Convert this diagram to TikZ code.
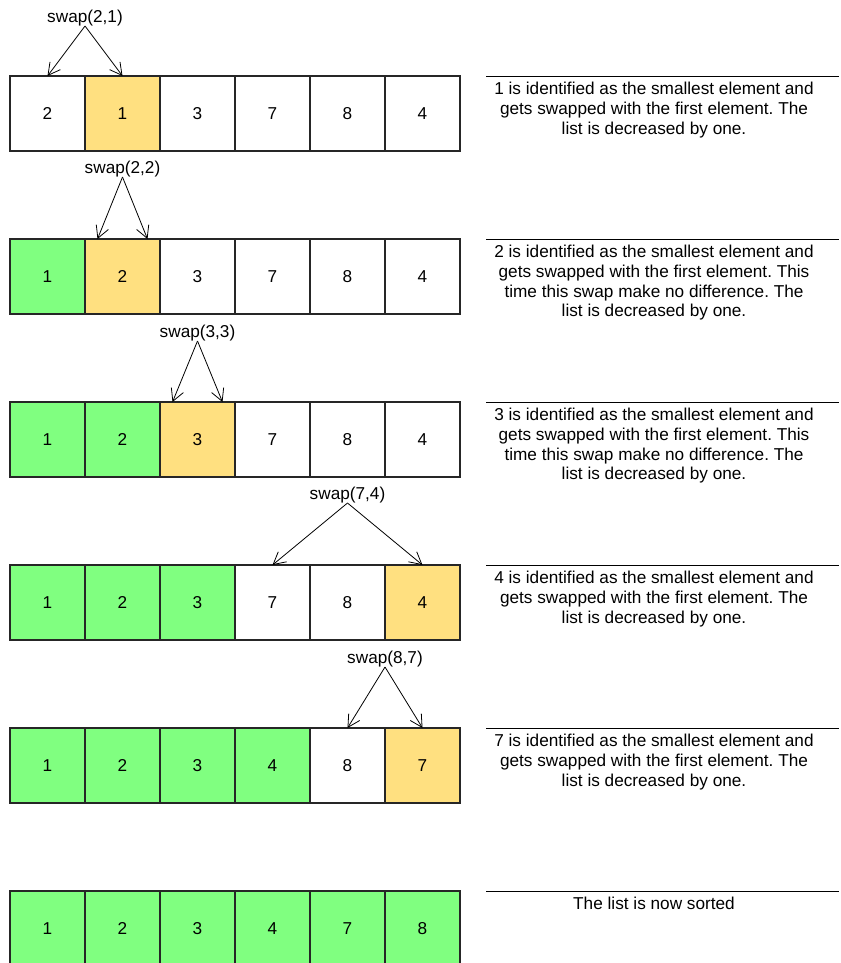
\documentclass[tikz,border=0pt]{standalone}
\usepackage{fontspec}
\setmainfont{Liberation Sans}
\frenchspacing
\usetikzlibrary{positioning,arrows.meta}
\definecolor{donegreen}{HTML}{80FF80}
\definecolor{pickyellow}{HTML}{FFE080}
\tikzstyle{cell}=[rectangle, draw=black!85, line width=1.4pt, minimum size=75pt, inner sep=0, outer sep=0]
\tikzstyle{sorted}=[cell, fill=donegreen]
\tikzstyle{picked}=[cell, fill=pickyellow]
\tikzstyle{swaplabel}=[inner sep=0]
\tikzstyle{note}=[align=center, inner sep=0, anchor=north]
\tikzstyle{swaparrow}=[-{Straight Barb[length=12pt,width=13pt]}, line width=0.8pt]

\begin{document}
\begin{tikzpicture}[x=1pt,y=-1pt,font=\fontsize{17.2}{19.7}\selectfont]
        \useasboundingbox (0,0) rectangle (840,963);

% Row 1
        \node[cell] (c11) at (47.5,113.5) {2};
        \node[picked, right=0pt of c11] (c12) {1};
        \node[cell, right=0pt of c12] (c13) {3};
        \node[cell, right=0pt of c13] (c14) {7};
        \node[cell, right=0pt of c14] (c15) {8};
        \node[cell, right=0pt of c15] (c16) {4};

% Row 2
        \node[sorted, below=88pt of c11] (c21) {1};
        \node[picked, right=0pt of c21] (c22) {2};
        \node[cell, right=0pt of c22] (c23) {3};
        \node[cell, right=0pt of c23] (c24) {7};
        \node[cell, right=0pt of c24] (c25) {8};
        \node[cell, right=0pt of c25] (c26) {4};

% Row 3
        \node[sorted, below=88pt of c21] (c31) {1};
        \node[sorted, right=0pt of c31] (c32) {2};
        \node[picked, right=0pt of c32] (c33) {3};
        \node[cell, right=0pt of c33] (c34) {7};
        \node[cell, right=0pt of c34] (c35) {8};
        \node[cell, right=0pt of c35] (c36) {4};

% Row 4
        \node[sorted, below=88pt of c31] (c41) {1};
        \node[sorted, right=0pt of c41] (c42) {2};
        \node[sorted, right=0pt of c42] (c43) {3};
        \node[cell, right=0pt of c43] (c44) {7};
        \node[cell, right=0pt of c44] (c45) {8};
        \node[picked, right=0pt of c45] (c46) {4};

% Row 5
        \node[sorted, below=88pt of c41] (c51) {1};
        \node[sorted, right=0pt of c51] (c52) {2};
        \node[sorted, right=0pt of c52] (c53) {3};
        \node[sorted, right=0pt of c53] (c54) {4};
        \node[cell, right=0pt of c54] (c55) {8};
        \node[picked, right=0pt of c55] (c56) {7};

% Row 6
        \node[sorted, below=88pt of c51] (c61) {1};
        \node[sorted, right=0pt of c61] (c62) {2};
        \node[sorted, right=0pt of c62] (c63) {3};
        \node[sorted, right=0pt of c63] (c64) {4};
        \node[sorted, right=0pt of c64] (c65) {7};
        \node[sorted, right=0pt of c65] (c66) {8};

% Swap labels
        \node[swaplabel, above=50pt of c11.north east] (s1) {swap(2,1)};
        \node[swaplabel, above=62pt of c22.north] (s2) {swap(2,2)};
        \node[swaplabel, above=61pt of c33.north] (s3) {swap(3,3)};
        \node[swaplabel, above=62pt of c45.north] (s4) {swap(7,4)};
        \node[swaplabel, above=61pt of c55.north east] (s5) {swap(8,7)};

% Arrows
        \draw[swaparrow] (s1.south) -- (c11.north);
        \draw[swaparrow] (s1.south) -- (c12.north);
        \draw[swaparrow] (s2.south) -- ([xshift=-25pt]c22.north);
        \draw[swaparrow] (s2.south) -- ([xshift=25pt]c22.north);
        \draw[swaparrow] (s3.south) -- ([xshift=-25pt]c33.north);
        \draw[swaparrow] (s3.south) -- ([xshift=25pt]c33.north);
        \draw[swaparrow] (s4.south) -- (c44.north);
        \draw[swaparrow] (s4.south) -- (c46.north);
        \draw[swaparrow] (s5.south) -- (c55.north);
        \draw[swaparrow] (s5.south) -- (c56.north);

% Notes
        \draw[line width=0.8pt] ([xshift=26pt]c16.north east) -- ++(353,0);
        \node[note] (n1) at ([xshift=194pt,yshift=-6pt]c16.north east)
            {1 is identified as the smallest element and\\
             gets swapped with the first element. The\\
             list is decreased by one.};

        \draw[line width=0.8pt] ([xshift=26pt]c26.north east) -- ++(353,0);
        \node[note] (n2) at ([xshift=194pt,yshift=-6pt]c26.north east)
            {2 is identified as the smallest element and\\
             gets swapped with the first element. This\\
             time this swap make no difference. The\\
             list is decreased by one.};

        \draw[line width=0.8pt] ([xshift=26pt]c36.north east) -- ++(353,0);
        \node[note] (n3) at ([xshift=194pt,yshift=-6pt]c36.north east)
            {3 is identified as the smallest element and\\
             gets swapped with the first element. This\\
             time this swap make no difference. The\\
             list is decreased by one.};

        \draw[line width=0.8pt] ([xshift=26pt]c46.north east) -- ++(353,0);
        \node[note] (n4) at ([xshift=194pt,yshift=-6pt]c46.north east)
            {4 is identified as the smallest element and\\
             gets swapped with the first element. The\\
             list is decreased by one.};

        \draw[line width=0.8pt] ([xshift=26pt]c56.north east) -- ++(353,0);
        \node[note] (n5) at ([xshift=194pt,yshift=-6pt]c56.north east)
            {7 is identified as the smallest element and\\
             gets swapped with the first element. The\\
             list is decreased by one.};

        \draw[line width=0.8pt] ([xshift=26pt]c66.north east) -- ++(353,0);
        \node[note] (n6) at ([xshift=194pt,yshift=-6pt]c66.north east)
            {The list is now sorted};

    \end{tikzpicture}
\end{document}
